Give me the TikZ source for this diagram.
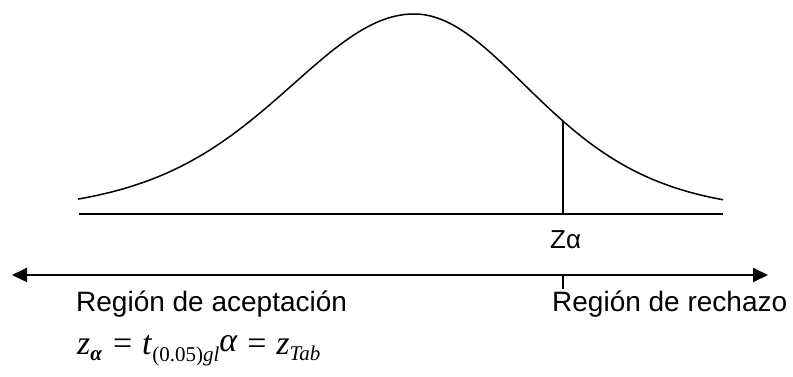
\documentclass[tikz,border=0pt]{standalone}
\usepackage{fontspec}
\setmainfont{Liberation Sans}
\newfontfamily\tms{Liberation Serif}
\usetikzlibrary{arrows.meta}
\tikzset{
  curve/.style={line width=1.5pt, line join=round},
  axis/.style={line width=1.7pt},
  marker/.style={line width=1.3pt},
  lbl/.style={inner sep=0pt, anchor=base west, font=\fontsize{28}{28}\selectfont},
  bigarrow/.style={line width=1.9pt, {Triangle[length=15pt,width=14pt]}-{Triangle[length=15pt,width=14pt]}}
}
\begin{document}
\begin{tikzpicture}[x=1pt,y=-1pt]
\useasboundingbox (0,0) rectangle (793,377);
% bell curve
\draw[curve] plot[domain=-3.36:0, samples=80] ({414+100*\x}, {214-200*exp(-4.5*ln(1+\x*\x/(1.21*11.95)))})
  -- plot[domain=0:3.09, samples=80] ({414+100*\x}, {214-200*exp(-4.5*ln(1+\x*\x/11.95))});
% baseline
\coordinate (bl) at (79,214);
\coordinate (br) at (723,214);
\draw[axis] (bl) -- (br);
% critical value line
\coordinate (zb) at (563,214);
\coordinate (zc) at (563,121);
\draw[marker] (zb) -- (zc);
\node[lbl, font=\fontsize{26}{26}\selectfont] (za) at (550,248) {Zα};
% long arrow
\coordinate (al) at (12,275);
\coordinate (ar) at (768,275);
\draw[bigarrow] (al) -- (ar);
\coordinate (tk) at (563,275);
\coordinate (tkb) at (563,289);
\draw[marker] (tk) -- (tkb);
\node[lbl] (acc) at (76,311) {Región de aceptación};
\node[lbl] (rej) at (552,311) {Región de rechazo};
% formula
\node[inner sep=0pt, anchor=base west] (f) at (77,354) {\tms\fontsize{34}{34}\selectfont
  \textit{z}\raisebox{-6pt}{\fontsize{21}{21}\selectfont\bfseries\itshape α}\hspace{11pt}=\hspace{10pt}\textit{t}\raisebox{-7pt}{\fontsize{21}{21}\selectfont(0.05)\itshape gl}\raisebox{3pt}{\itshape α}\hspace{10pt}=\hspace{10pt}\textit{z}\raisebox{-6pt}{\fontsize{21}{21}\selectfont\itshape Tab}};
\end{tikzpicture}
\end{document}
